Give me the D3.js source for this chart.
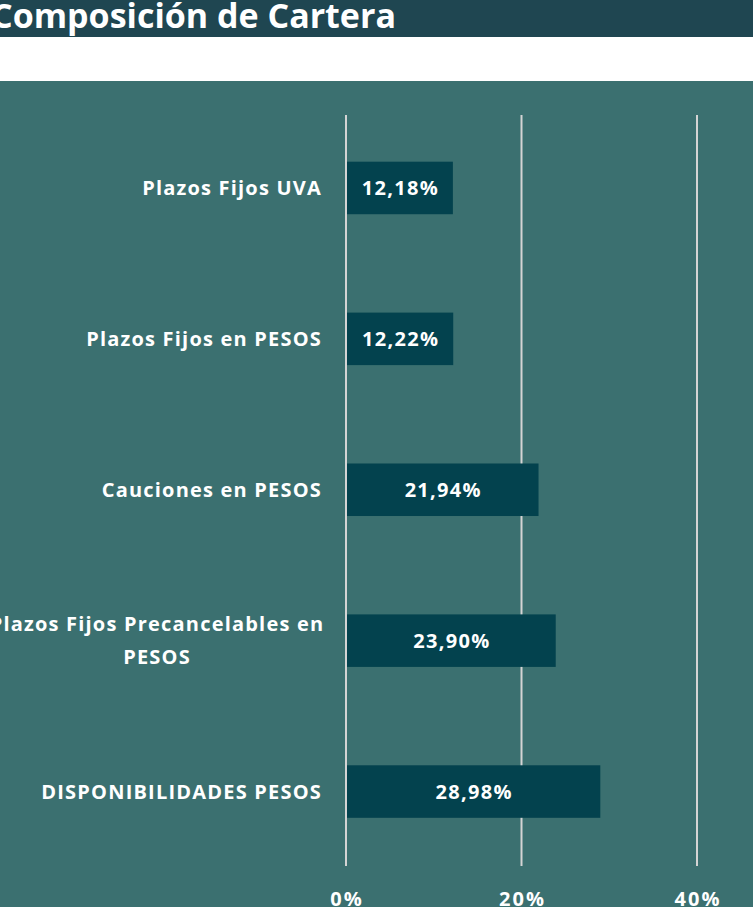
<!DOCTYPE html>
<html><head><meta charset="utf-8">
<script src="https://cdn.jsdelivr.net/npm/d3@7"></script>
<style>
html,body{margin:0;padding:0;background:#fff;}
svg{display:block;}
</style></head>
<body>
<script>
const categories = ["Plazos Fijos UVA","Plazos Fijos en PESOS","Cauciones en PESOS","Plazos Fijos Precancelables en PESOS","DISPONIBILIDADES PESOS"];
const labelLines = [["Plazos Fijos UVA"],["Plazos Fijos en PESOS"],["Cauciones en PESOS"],["Plazos Fijos Precancelables en","PESOS"],["DISPONIBILIDADES PESOS"]];
const values = [12.18, 12.22, 21.94, 23.90, 28.98];
const tickValues = [0, 20, 40];
const title = "Composición de Cartera";

const W = 753, H = 907;
const svg = d3.select("body").append("svg").attr("width", W).attr("height", H);

// title bar
svg.append("rect").attr("x",0).attr("y",0).attr("width",W).attr("height",37).attr("fill","#1f4651");
svg.append("text").attr("x",-9).attr("y",28).attr("fill","#fff")
  .attr("font-family","'Open Sans', sans-serif").attr("font-weight",700).attr("font-size",34)
  .text(title);

// chart background
svg.append("rect").attr("x",0).attr("y",81).attr("width",W).attr("height",H-81).attr("fill","#3b7070");

const x = d3.scaleLinear().domain([0,40]).range([346,697]);
const y = d3.scaleBand().domain(categories).range([112.5,867]).paddingInner(0.652).paddingOuter(0.326);

// gridlines
svg.append("g").selectAll("line").data(tickValues).join("line")
  .attr("x1",d=>x(d)).attr("x2",d=>x(d)).attr("y1",115).attr("y2",866)
  .attr("stroke","#d4d4d4").attr("stroke-width",2);

// bars
svg.append("g").selectAll("rect").data(values).join("rect")
  .attr("x",x(0)+1).attr("y",(d,i)=>y(categories[i]))
  .attr("width",d=>x(d)-x(0)-1).attr("height",y.bandwidth())
  .attr("fill","#03424e");

const FONT = "'Open Sans', sans-serif";

// value labels
svg.append("g").selectAll("text").data(values).join("text")
  .attr("x",d=>(x(0)+x(d))/2+1).attr("y",(d,i)=>y(categories[i])+y.bandwidth()/2+7)
  .attr("text-anchor","middle").attr("fill","#fff")
  .attr("font-family",FONT).attr("font-weight",700).attr("font-size",20).attr("letter-spacing",1.3)
  .text(d=>d.toFixed(2).replace(".",",")+"%");

// category labels
const lg = svg.append("g").attr("font-family",FONT).attr("font-weight",700).attr("font-size",20)
  .attr("letter-spacing",1.2).attr("fill","#fff");
categories.forEach((c,i)=>{
  const cy = y(c)+y.bandwidth()/2;
  const lines = labelLines[i];
  if(lines.length===1){
    lg.append("text").attr("x",322).attr("y",cy+7).attr("text-anchor","end").text(lines[0]);
  } else {
    lines.forEach((l,j)=>{
      lg.append("text").attr("x",157).attr("y",cy+7+(j-(lines.length-1)/2)*33).attr("text-anchor","middle").text(l);
    });
  }
});

// x axis tick labels
svg.append("g").selectAll("text").data(tickValues).join("text")
  .attr("x",d=>x(d)+1).attr("y",906).attr("text-anchor","middle").attr("fill","#fff")
  .attr("font-family",FONT).attr("font-weight",700).attr("font-size",20).attr("letter-spacing",2)
  .text(d=>d+"%");
</script>
</body></html>
